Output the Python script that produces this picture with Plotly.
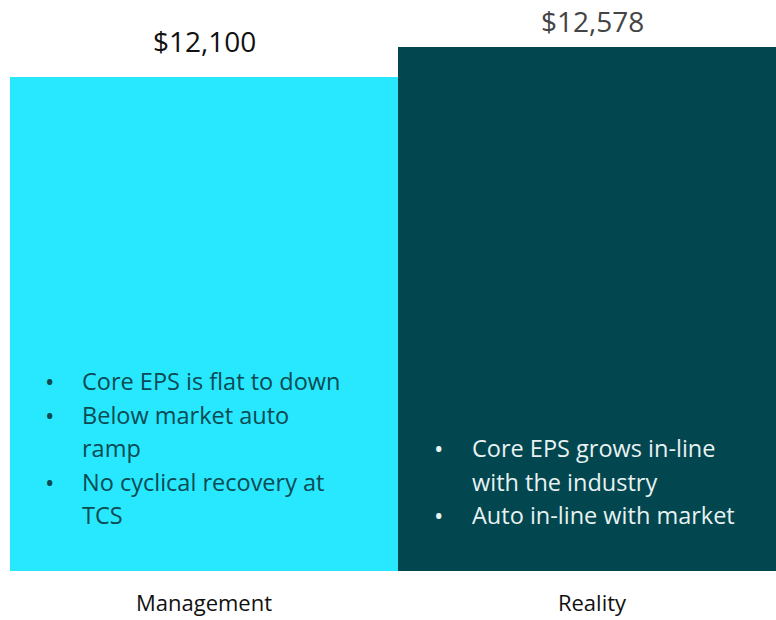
import plotly.graph_objects as go

# Scenario values
categories = ["Management", "Reality"]
values = [12100, 12578]
bar_colors = ["#27E8FF", "#02464F"]
text_colors = ["#0B4A52", "#E8F2F2"]
label_colors = ["#111111", "#444444"]

# Bullet notes per scenario: list of lines; a line starting with "• " opens a bullet
notes = {
    "Management": [
        "• Core EPS is flat to down",
        "• Below market auto",
        "ramp",
        "• No cyclical recovery at",
        "TCS",
    ],
    "Reality": [
        "• Core EPS grows in-line",
        "with the industry",
        "• Auto in-line with market",
    ],
}

FONT = "Open Sans"
W, H = 776, 620
ML, MR, MT, MB = 10, 0, 0, 49
plot_w = W - ML - MR
plot_h = H - MT - MB
px_per_cat = 388  # each bar spans a full category slot

y_min, y_max = 4229, 13325

fig = go.Figure()
fig.add_trace(go.Bar(
    x=categories,
    y=values,
    marker=dict(color=bar_colors, line=dict(width=0)),
    hoverinfo="skip",
))

annotations = []
# value labels above bars (the taller bar's label sits closer to fit the top edge)
label_shift = [15, 5]
for i, (cat, v) in enumerate(zip(categories, values)):
    annotations.append(dict(
        x=cat, y=v, xref="x", yref="y",
        text=f"${v:,.0f}", showarrow=False,
        yanchor="bottom", yshift=label_shift[i],
        font=dict(family=FONT, size=28, color=label_colors[i]),
    ))

# bullet notes inside bars
layout_notes = {
    "Management": dict(bullet_x=49, text_x=80, first_y=381),
    "Reality": dict(bullet_x=438, text_x=470, first_y=448),
}
line_step = 33.5


def px_to_paper_x(px):
    return (px - ML) / plot_w


def px_to_paper_y(py):
    return (H - MB - py) / plot_h


for i, cat in enumerate(categories):
    cfg = layout_notes[cat]
    for j, line in enumerate(notes[cat]):
        py = cfg["first_y"] + j * line_step
        txt = line
        if line.startswith("• "):
            txt = line[2:]
            annotations.append(dict(
                x=px_to_paper_x(cfg["bullet_x"]), y=px_to_paper_y(py),
                xref="paper", yref="paper", text="•", showarrow=False,
                xanchor="center", yanchor="middle",
                font=dict(family=FONT, size=25, color=text_colors[i]),
            ))
        annotations.append(dict(
            x=px_to_paper_x(cfg["text_x"]), y=px_to_paper_y(py),
            xref="paper", yref="paper", text=txt, showarrow=False,
            xanchor="left", yanchor="middle",
            font=dict(family=FONT, size=23.5, color=text_colors[i]),
        ))

fig.update_layout(
    width=W, height=H,
    margin=dict(l=ML, r=MR, t=MT, b=MB, pad=0),
    paper_bgcolor="white", plot_bgcolor="white",
    bargap=0,
    showlegend=False,
    annotations=annotations,
    xaxis=dict(
        range=[-0.5, -0.5 + plot_w / px_per_cat],
        showgrid=False, zeroline=False, showline=False,
        ticks="outside", ticklen=13, tickcolor="rgba(0,0,0,0)",
        tickfont=dict(family=FONT, size=22, color="#111111"),
        fixedrange=True,
    ),
    yaxis=dict(
        range=[y_min, y_max], visible=False, fixedrange=True,
    ),
)

fig.write_html("out.html", config={"displayModeBar": False})
